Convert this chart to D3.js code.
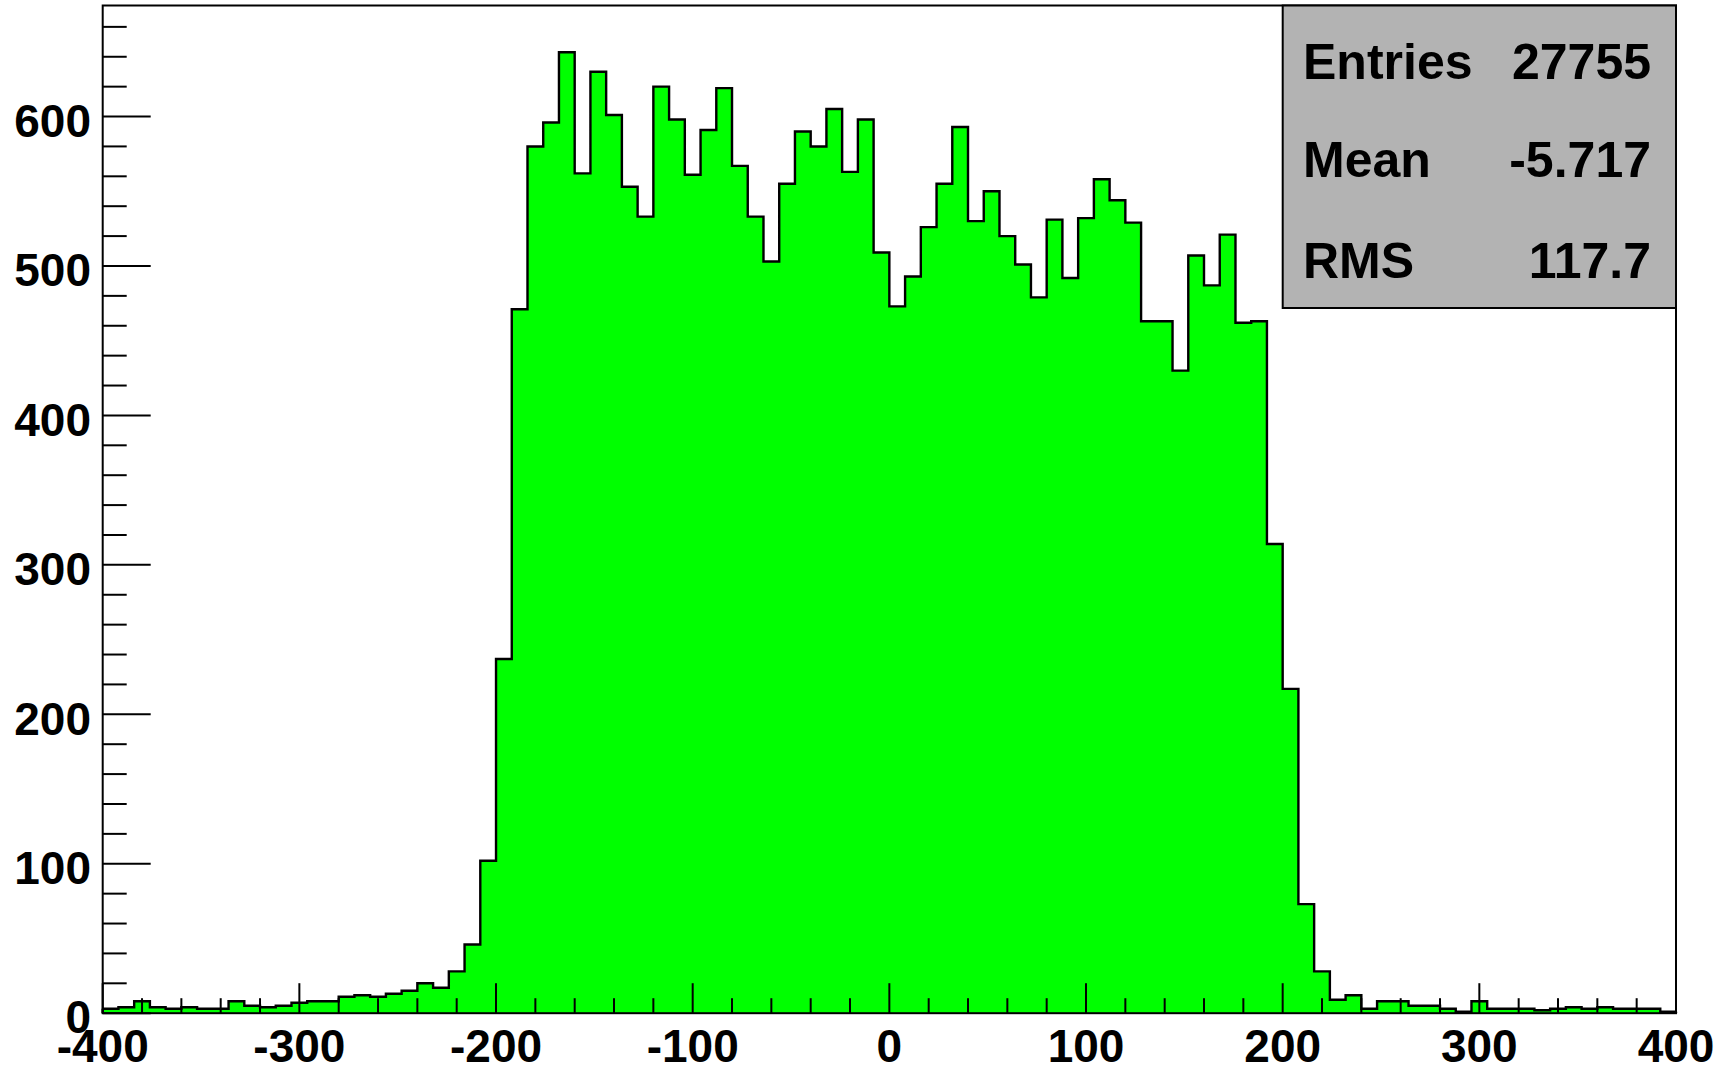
<!DOCTYPE html>
<html>
<head>
<meta charset="utf-8">
<script src="https://cdn.jsdelivr.net/npm/d3@7"></script>
<style>
html,body{margin:0;padding:0;background:#fff;}
svg{display:block;}
text{font-family:"Liberation Sans",Arial,Helvetica,sans-serif;font-weight:bold;fill:#000;}
</style>
</head>
<body>
<svg id="chart" width="1722" height="1071"></svg>
<script>
// Histogram: 100 bins from -400 to 400 (bin width 8)
const binEdgesRange = [-400, 400];
const binCounts = [
  3,4,8,4,3,4,3,3,8,5,
  4,5,7,8,8,11,12,11,13,15,
  20,17,28,46,102,237,471,580,596,643,
  562,630,601,553,533,620,598,561,591,619,
  567,533,503,555,590,580,605,563,598,509,
  473,493,526,555,593,530,550,520,501,479,
  531,492,532,558,544,529,463,463,430,507,
  487,521,462,463,314,217,73,28,9,12,
  3,8,8,5,5,3,1,8,3,3,
  3,2,3,4,3,4,3,3,3,1
];
const xTickLabels = [-400,-300,-200,-100,0,100,200,300,400];
const yTickLabels = [0,100,200,300,400,500,600];
const statsNames = ["Entries","Mean","RMS"];
const statsValues = ["27755","-5.717","117.7"];

const svg = d3.select("#chart");
const L = 102.7, R = 1676, T = 5.5, B = 1013.2;
const yMax = 674.3;

const x = d3.scaleLinear().domain(binEdgesRange).range([L, R]);
const y = d3.scaleLinear().domain([0, yMax]).range([B, T]);

const nb = binCounts.length;
const bw = (binEdgesRange[1]-binEdgesRange[0])/nb;
const pts = binCounts.map((c,i)=>({x0: binEdgesRange[0]+i*bw, c}));
pts.push({x0: binEdgesRange[1], c: binCounts[nb-1]});

// fill
const area = d3.area().x(d=>x(d.x0)).y0(y(0)).y1(d=>y(d.c)).curve(d3.curveStepAfter);
svg.append("path").datum(pts).attr("d", area).attr("fill", "#00ff00");

// outline (step contour)
const line = d3.line().x(d=>x(d.x0)).y(d=>y(d.c)).curve(d3.curveStepAfter);
const lineGen = d3.line().x(d=>x(d.x0)).y(d=>y(d.c));
svg.append("path").datum(pts).attr("d", line)
  .attr("fill","none").attr("stroke","#000").attr("stroke-width",2.4).attr("stroke-linejoin","miter");
svg.append("path").datum([{x0: binEdgesRange[0], c:0},{x0: binEdgesRange[0], c: binCounts[0]}]).attr("d", lineGen)
  .attr("fill","none").attr("stroke","#000").attr("stroke-width",2.4);
svg.append("path").datum([{x0: binEdgesRange[1], c:0},{x0: binEdgesRange[1], c: binCounts[nb-1]}]).attr("d", lineGen)
  .attr("fill","none").attr("stroke","#000").attr("stroke-width",2.4);

// frame
svg.append("rect").attr("x", L).attr("y", T).attr("width", R-L).attr("height", B-T)
  .attr("fill","none").attr("stroke","#000").attr("stroke-width",2);

// x ticks (inside, upward)
const xMinor = d3.range(-400, 400.001, 20);
svg.append("g").selectAll("line").data(xMinor).join("line")
  .attr("x1", d=>x(d)).attr("x2", d=>x(d))
  .attr("y1", B).attr("y2", d=> (d%100===0) ? B-30 : B-15)
  .attr("stroke","#000").attr("stroke-width",2);
svg.append("g").selectAll("text").data(xTickLabels).join("text")
  .attr("x", d=>x(d)).attr("y", 1062)
  .attr("text-anchor","middle").attr("font-size", 46)
  .text(d=>d);

// y ticks (inside, rightward)
const yMinor = d3.range(0, 661, 20);
svg.append("g").selectAll("line").data(yMinor).join("line")
  .attr("x1", L).attr("x2", d=> (d%100===0) ? L+48 : L+24)
  .attr("y1", d=>y(d)).attr("y2", d=>y(d))
  .attr("stroke","#000").attr("stroke-width",2);
svg.append("g").selectAll("text").data(yTickLabels).join("text")
  .attr("x", 91).attr("y", d=>y(d)).attr("dy","0.44em")
  .attr("text-anchor","end").attr("font-size", 46)
  .text(d=>d);

// stats box
const bx0 = 1282.7, by0 = 5.5, bx1 = 1676, by1 = 308;
svg.append("rect").attr("x", bx0).attr("y", by0).attr("width", bx1-bx0).attr("height", by1-by0)
  .attr("fill","#b3b3b3").attr("stroke","#000").attr("stroke-width",2);
const rowY = [79, 177, 278];
svg.append("g").selectAll("text").data(statsNames).join("text")
  .attr("x", 1303).attr("y", (d,i)=>rowY[i]).attr("font-size", 50).text(d=>d);
svg.append("g").selectAll("text").data(statsValues).join("text")
  .attr("x", 1651).attr("y", (d,i)=>rowY[i]).attr("text-anchor","end").attr("font-size", 50).text(d=>d);
</script>
</body>
</html>
